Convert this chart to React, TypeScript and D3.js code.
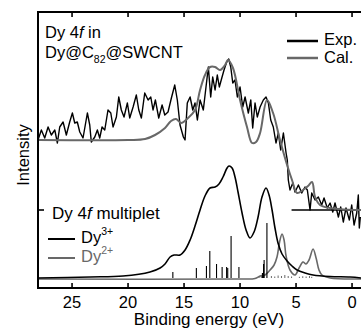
import React from "react";
import * as d3 from "d3";

// ---- Data (energy in eV, intensity in arbitrary units) ----
const xTicks = [25, 20, 15, 10, 5, 0];
const upperOffset = 0.68;

// Experimental Dy 4f spectrum (upper, relative to its own zero line)
const expE = [28.04,27.74,27.44,27.14,26.85,26.54,26.31,26.1,25.8,25.51,25.21,24.97,24.76,24.53,24.31,24.02,23.63,23.42,23.28,22.97,22.74,22.53,22.32,22.08,21.79,21.54,21.34,21.04,20.83,20.6,20.36,20.06,19.85,19.55,19.26,19.04,18.81,18.51,18.21,17.97,17.77,17.56,17.26,16.96,16.72,16.43,16.13,15.83,15.6,15.36,15.06,14.91,14.71,14.46,14.22,14.02,13.81,13.57,13.28,13.04,12.83,12.62,12.44,12.23,12.03,11.85,11.63,11.43,11.19,11.01,10.83,10.65,10.45,10.24,10.0,9.76,9.55,9.26,9.04,8.87,8.66,8.46,8.21,7.92,7.68,7.47,7.26,7.03,6.79,6.58,6.37,6.13,5.89,5.78,5.69,5.54,5.29,5.09,4.79,4.49,4.2,3.99,3.75,3.6,3.3,3.01,2.71,2.5,2.21,1.96,1.72,1.52,1.22,1.01,0.78,0.54,0.24,0.03,-0.18,-0.42,-0.56,-0.65,-0.74];
const expI = [0.70,0.80,0.72,0.83,0.75,0.80,0.67,0.83,0.88,0.75,0.88,0.97,0.87,0.88,0.78,0.72,0.97,0.85,0.68,0.73,0.80,0.72,0.83,0.80,1.00,0.97,0.83,0.93,1.13,1.00,0.93,1.07,0.92,1.03,1.15,1.00,0.92,1.17,1.10,1.13,1.00,1.10,0.92,1.05,0.95,0.98,1.12,1.25,1.10,0.85,0.73,0.70,1.07,1.13,1.00,1.07,0.90,1.10,1.00,1.23,1.43,1.13,1.33,1.20,1.35,1.23,1.32,1.40,1.48,1.51,1.43,1.27,1.30,1.13,1.23,1.03,1.13,0.97,1.10,0.82,1.07,0.93,1.03,1.10,1.13,1.07,0.90,0.83,0.67,0.77,0.60,0.77,0.57,0.50,0.30,0.20,0.27,0.18,0.25,0.17,0.23,0.20,0.00,0.17,0.10,0.13,0.05,0.12,0.02,0.07,-0.02,0.07,-0.07,0.03,-0.12,0.02,-0.10,0.05,-0.15,-0.03,0.15,-0.18,-0.07];

// Calculated spectrum (upper)
const calE = [28.04,20.0,18.48,17.59,16.7,16.16,15.71,15.27,14.64,14.02,13.57,13.13,12.68,12.23,11.79,11.34,11.07,10.63,10.0,9.38,8.93,8.57,8.21,7.59,7.05,6.43,5.8,5.36,4.91,4.38,3.93,3.57,3.3,2.86,1.96,0.63,-0.8];
const calI = [0.70,0.70,0.71,0.75,0.82,0.89,0.91,0.87,0.92,1.00,1.20,1.35,1.43,1.43,1.40,1.45,1.50,1.42,1.10,0.83,0.67,0.68,0.77,1.10,0.97,0.70,0.45,0.30,0.17,0.20,0.24,0.28,0.13,0.05,0.02,0.005,0];
const zeroLineE = [5.4, -0.8];

// Dy 4f multiplet, Dy3+
const dy3E = [28.04,23.39,20.45,18.04,17.14,16.7,16.25,15.89,15.36,14.91,14.46,14.02,13.57,13.13,12.68,12.23,11.88,11.52,11.16,10.98,10.71,10.45,10.18,9.82,9.46,9.11,8.75,8.39,8.04,7.68,7.41,7.14,6.88,6.61,6.25,5.8,5.36,4.91,4.2,3.48,1.96,0.18,-0.8];
const dy3I = [0.0,0.01,0.02,0.06,0.10,0.14,0.21,0.23,0.23,0.28,0.38,0.52,0.68,0.82,0.90,0.91,0.94,1.01,1.10,1.12,1.10,1.01,0.86,0.65,0.48,0.40,0.46,0.61,0.81,0.90,0.83,0.68,0.50,0.35,0.24,0.17,0.12,0.08,0.05,0.03,0.015,0.01,0.0];

// Dy 4f multiplet, Dy2+
const dy2E = [28.04,10.0,8.66,8.21,7.77,7.32,6.96,6.7,6.47,6.25,6.07,5.89,5.54,5.09,4.73,4.38,4.11,3.84,3.48,3.21,2.95,2.68,1.96,-0.8];
const dy2I = [-0.01,-0.01,-0.005,0.02,0.03,0.08,0.13,0.21,0.36,0.44,0.38,0.22,0.08,0.03,0.10,0.16,0.14,0.18,0.29,0.20,0.08,0.03,0.0,-0.01];

// Multiplet lines
const stick3E = [16.0,13.9,13.0,12.7,12.1,11.6,11.2,11.1,10.8,10.1,8.0,7.9,7.85,7.6];
const stick3I = [0.06,0.10,0.12,0.27,0.14,0.11,0.11,0.10,0.42,0.11,0.05,0.14,0.18,0.55];
const stick2E = [8.3,8.1,7.2,6.9,6.6,6.3,6.0,5.7,5.4,4.7,4.4,4.1,3.8,3.6];
const stick2I = [0.015,0.02,0.02,0.015,0.025,0.02,0.03,0.02,0.015,0.012,0.018,0.015,0.02,0.012];

const W = 361, H = 329;
const FONT = "'Liberation Sans', Arial, Helvetica, sans-serif";
const GREY = "#686868";
const FS = 16.5;

export default function App() {
  const x = d3.scaleLinear().domain([28.04, -0.8]).range([38, 361]);
  const y = d3.scaleLinear().domain([-0.1, 2.66]).range([288, 12]);

  const mk = (es: number[], is: number[], off: number) => es.map((e, i) => [e, is[i] + off] as [number, number]);
  const lin = d3.line<[number, number]>().x(d => x(d[0])).y(d => y(d[1]));
  const smooth = d3.line<[number, number]>().x(d => x(d[0])).y(d => y(d[1])).curve(d3.curveCatmullRom.alpha(0.5));

  return (
    <>
      <style>{`body{margin:0}`}</style>
      <svg width={W} height={H} style={{ display: "block", fontFamily: FONT }}>
        <rect width={W} height={H} fill="#fff" />
        {/* lower multiplet */}
        <path d={smooth(mk(dy2E, dy2I, 0)) || ""} fill="none" stroke={GREY} strokeWidth={1.6} />
        {stick2E.map((e, i) => (
          <line key={"s2" + i} x1={x(e)} x2={x(e)} y1={y(0)} y2={y(stick2I[i])} stroke={GREY} strokeWidth={1} />
        ))}
        {stick3E.map((e, i) => (
          <line key={"s3" + i} x1={x(e)} x2={x(e)} y1={y(0)} y2={y(stick3I[i])} stroke="#000" strokeWidth={1.1} />
        ))}
        <path d={smooth(mk(dy3E, dy3I, 0)) || ""} fill="none" stroke="#000" strokeWidth={1.6} />

        {/* upper spectra */}
        <line x1={x(zeroLineE[0])} x2={x(zeroLineE[1])} y1={y(upperOffset)} y2={y(upperOffset)} stroke="#000" strokeWidth={1.6} />
        <path d={lin(mk(expE, expI, upperOffset)) || ""} fill="none" stroke="#000" strokeWidth={1.4} strokeLinejoin="round" />
        <path d={smooth(mk(calE, calI, upperOffset)) || ""} fill="none" stroke={GREY} strokeWidth={2} />

        {/* axes */}
        <line x1={38} x2={W} y1={y.range()[1]} y2={y.range()[1]} stroke="#000" strokeWidth={2} />
        <line x1={38} x2={W} y1={y.range()[0]} y2={y.range()[0]} stroke="#000" strokeWidth={2} />
        <line x1={38} x2={38} y1={y.range()[1] - 1} y2={y.range()[0] + 1} stroke="#000" strokeWidth={2} />
        {xTicks.map(t => (
          <g key={t}>
            <line x1={x(t)} x2={x(t)} y1={y.range()[0]} y2={y.range()[0] - 5} stroke="#000" strokeWidth={1.6} />
            <line x1={x(t)} x2={x(t)} y1={y.range()[1]} y2={y.range()[1] + 5} stroke="#000" strokeWidth={1.6} />
            <text x={x(t)} y={308} fontSize={FS} textAnchor="middle">{t}</text>
          </g>
        ))}
        <line x1={38} x2={44} y1={y(upperOffset)} y2={y(upperOffset)} stroke="#000" strokeWidth={1.6} />
        <text x={209} y={325} fontSize={17} textAnchor="middle">Binding energy (eV)</text>
        <text transform="translate(29,155) rotate(-90)" fontSize={FS} textAnchor="middle">Intensity</text>

        {/* annotations */}
        <text x={45} y={38} fontSize={FS}>Dy 4<tspan fontStyle="italic">f</tspan> in</text>
        <text x={45} y={58} fontSize={FS}>Dy@C<tspan fontSize={10.5} dy={5}>82</tspan><tspan dy={-5}>@SWCNT</tspan></text>
        <line x1={287} x2={318} y1={41} y2={41} stroke="#000" strokeWidth={2.5} />
        <text x={324} y={45} fontSize={FS}>Exp.</text>
        <line x1={287} x2={318} y1={58} y2={58} stroke={GREY} strokeWidth={2.5} />
        <text x={324} y={63} fontSize={FS}>Cal.</text>

        <text x={52} y={219} fontSize={17}>Dy 4<tspan fontStyle="italic">f</tspan> multiplet</text>
        <line x1={48} x2={75} y1={239} y2={239} stroke="#000" strokeWidth={2} />
        <text x={81} y={243} fontSize={FS}>Dy<tspan fontSize={10.5} dy={-8}>3+</tspan></text>
        <line x1={48} x2={75} y1={258} y2={258} stroke={GREY} strokeWidth={2} />
        <text x={81} y={262} fontSize={FS} fill={GREY}>Dy<tspan fontSize={10.5} dy={-8}>2+</tspan></text>
      </svg>
    </>
  );
}
